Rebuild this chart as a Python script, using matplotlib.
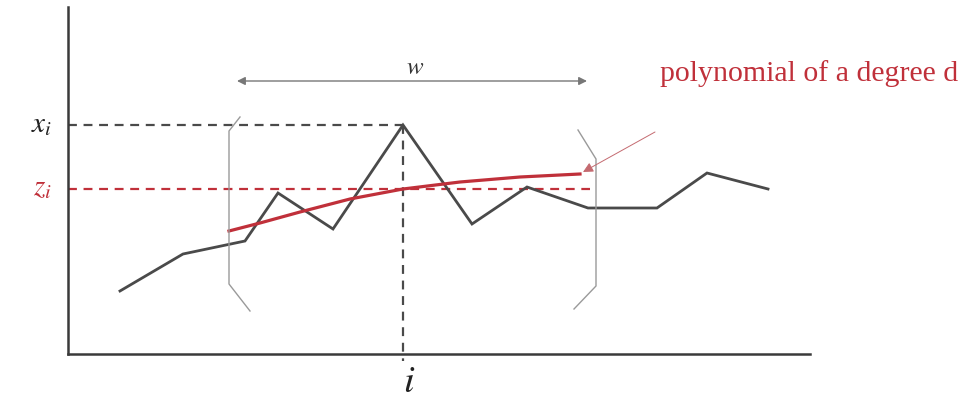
import matplotlib.pyplot as plt
import numpy as np

plt.rcParams['mathtext.fontset'] = 'stix'

# series (pixel-like units, y grows downward)
series_x = [120, 183, 245, 278, 333, 403, 472, 527, 588, 657, 707, 768]
series_y = [292, 255, 242, 194, 230, 126, 225, 188, 209, 209, 174, 190]

# fitted polynomial inside the window
poly_x = [229, 260, 300, 350, 403, 460, 520, 580]
poly_y = [232, 224, 213, 200, 190, 183, 178, 175]

# window brackets
left_br_x = [240, 229, 229, 250]
left_br_y = [118, 132, 285, 312]
right_br_x = [578, 596, 596, 574]
right_br_y = [131, 160, 287, 310]

i_pos = 403
x_i = 126
z_i = 190
w_span = (237, 587)
w_level = 82

gray = '#4a4a4a'
red = '#c0303a'

fig = plt.figure(figsize=(9.77, 4.06), dpi=100)
ax = fig.add_axes([68 / 977, (406 - 355) / 406, (810 - 68) / 977, (355 - 8) / 406])
ax.set_xlim(68, 810)
ax.set_ylim(355, 8)
ax.set_xticks([])
ax.set_yticks([])
for s in ['top', 'right']:
	ax.spines[s].set_visible(False)
for s in ['left', 'bottom']:
	ax.spines[s].set_color('#3a3a3a')
	ax.spines[s].set_linewidth(1.8)

# dashed guides
ax.plot([68, i_pos], [x_i, x_i], color=gray, lw=1.6, ls=(0, (4, 3)), clip_on=False)
ax.plot([i_pos, i_pos], [x_i, 362], color=gray, lw=1.6, ls=(0, (4, 3)), clip_on=False)
ax.plot([68, 590], [z_i, z_i], color=red, lw=1.6, ls=(0, (4, 3)), clip_on=False)

# time series
ax.plot(series_x, series_y, color=gray, lw=2.0, solid_joinstyle='miter')

# polynomial
ax.plot(poly_x, poly_y, color=red, lw=2.3)

# brackets
ax.plot(left_br_x, left_br_y, color='#9a9a9a', lw=1.0)
ax.plot(right_br_x, right_br_y, color='#9a9a9a', lw=1.0)

# window width arrow
ax.annotate('', xy=(w_span[0], w_level), xytext=(w_span[1], w_level),
	arrowprops=dict(arrowstyle='<|-|>', color='#777777', lw=1.0,
		mutation_scale=12, shrinkA=0, shrinkB=0))
ax.text((w_span[0] + w_span[1]) / 2 + 3, w_level - 15, r'$w$', fontsize=18,
	ha='center', va='center', color='#333333')

# annotation for polynomial
ax.annotate('', xy=(583, 173), xytext=(655, 133),
	arrowprops=dict(arrowstyle='-|>', color='#c46a70', lw=0.7,
		mutation_scale=15, shrinkA=0, shrinkB=0))
fig.text(660 / 977, 1 - 74 / 406, 'polynomial of a degree d', fontsize=21.5,
	family='Liberation Serif', color=red, ha='left', va='center')

# labels
fig.text(42 / 977, 1 - 124 / 406, r'$x_i$', fontsize=21, ha='center', va='center',
	color='#222222')
fig.text(42 / 977, 1 - 187 / 406, r'$z_i$', fontsize=21, ha='center', va='center',
	color=red)
fig.text(409 / 977, 1 - 381 / 406, r'$i$', fontsize=28, ha='center', va='center',
	color='#222222')

fig.savefig('out.png', dpi=100)
